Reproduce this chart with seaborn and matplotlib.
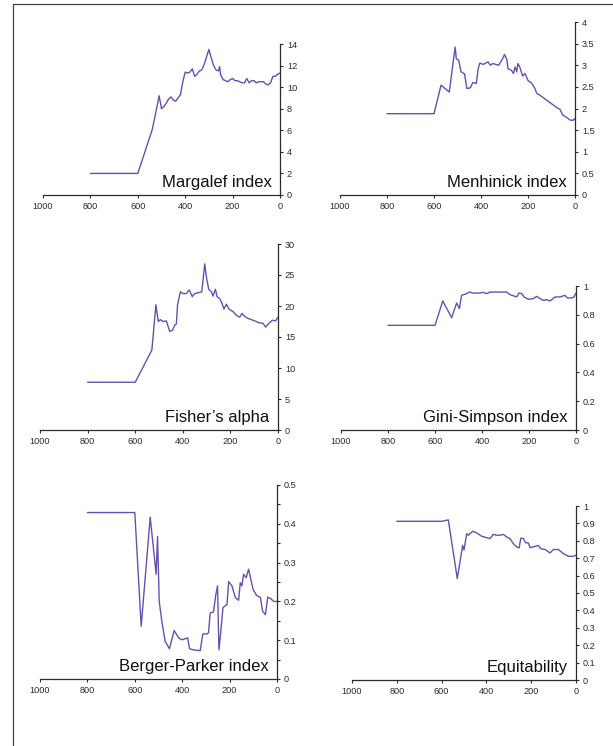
import matplotlib
matplotlib.use("Agg")
import matplotlib.pyplot as plt
from matplotlib.lines import Line2D
from matplotlib.ticker import MultipleLocator, FuncFormatter
import seaborn as sns

sns.set_style("ticks")
plt.rcParams["font.family"] = ["Liberation Sans", "DejaVu Sans"]

# ---- diversity index series (age vs value) ----
margalef_age = [800, 600, 570, 540, 530, 510, 500, 490, 480, 470, 460, 450, 440, 430, 420,
                410, 400, 390, 380, 370, 360, 350, 340, 330, 320, 310, 300, 290, 280, 270,
                260, 255, 250, 240, 230, 220, 210, 200, 190, 180, 170, 160, 150, 140, 130,
                120, 110, 100, 90, 80, 70, 60, 50, 40, 30, 20, 10, 0]
margalef_val = [2.0, 2.0, 4.0, 6.0, 7.0, 9.2, 8.0, 8.2, 8.5, 8.9, 9.1, 8.8, 8.7, 9.0, 9.3,
                10.5, 11.4, 11.3, 11.4, 11.7, 11.0, 11.2, 11.5, 11.6, 12.1, 12.8, 13.5, 12.7, 12.0, 11.6,
                11.5, 11.9, 11.1, 10.7, 10.6, 10.5, 10.7, 10.8, 10.6, 10.6, 10.5, 10.4, 10.4, 10.8, 10.4,
                10.6, 10.6, 10.4, 10.5, 10.5, 10.5, 10.3, 10.2, 10.4, 11.0, 11.0, 11.2, 11.3]

menhinick_age = [800, 600, 570, 535, 510, 505, 495, 485, 470, 460, 445, 435, 420, 412, 405,
                 390, 370, 360, 350, 325, 310, 300, 290, 285, 270, 262, 255, 248, 243, 235,
                 223, 213, 200, 185, 170, 163, 150, 135, 120, 105, 92, 78, 64, 52, 35,
                 20, 7, 0]
menhinick_val = [1.88, 1.88, 2.54, 2.38, 3.42, 3.15, 3.12, 2.85, 2.80, 2.46, 2.48, 2.60, 2.58, 2.92, 3.05,
                 3.02, 3.08, 3.00, 3.04, 3.00, 3.13, 3.25, 3.13, 2.92, 2.88, 2.81, 2.96, 2.85, 3.04, 2.96,
                 2.75, 2.81, 2.65, 2.59, 2.46, 2.35, 2.31, 2.25, 2.19, 2.13, 2.08, 2.02, 1.98, 1.85, 1.79,
                 1.73, 1.73, 1.77]

fisher_age = [800, 600, 573, 530, 513, 503, 494, 483, 469, 455, 443, 434, 427, 422, 410,
              399, 385, 373, 360, 350, 329, 320, 308, 301, 291, 280, 273, 263, 256, 245,
              238, 227, 217, 206, 189, 175, 161, 151, 140, 126, 112, 98, 80, 63, 52,
              38, 24, 10, 0]
fisher_val = [7.7, 7.7, 9.7, 12.9, 20.2, 17.5, 17.8, 17.5, 17.6, 15.9, 16.1, 16.9, 17.1, 20.2, 22.3,
              22.0, 22.0, 22.6, 21.5, 22.0, 22.2, 22.3, 26.8, 24.7, 22.7, 22.3, 21.6, 22.7, 21.5, 21.2,
              20.7, 19.5, 20.3, 19.5, 19.1, 18.5, 18.2, 18.8, 18.3, 18.0, 17.8, 17.6, 17.3, 17.2, 16.6,
              17.2, 17.7, 17.6, 18.2]

gini_age = [800, 600, 567, 529, 508, 496, 487, 465, 454, 437, 409, 394, 380, 366, 295,
            281, 252, 243, 231, 221, 203, 182, 167, 153, 139, 125, 111, 89, 68, 47,
            37, 18, 9, 0]
gini_val = [0.727, 0.727, 0.896, 0.780, 0.882, 0.843, 0.935, 0.947, 0.958, 0.951, 0.951, 0.956, 0.947, 0.958, 0.958,
            0.940, 0.924, 0.951, 0.947, 0.924, 0.908, 0.912, 0.928, 0.912, 0.900, 0.905, 0.896, 0.924, 0.924, 0.935,
            0.917, 0.917, 0.924, 0.951]

berger_age = [800, 600, 573, 535, 510, 504, 497, 486, 472, 454, 434, 415, 401, 377, 369,
              352, 324, 313, 296, 289, 282, 268, 258, 251, 245, 237, 228, 211, 204, 190,
              176, 162, 155, 148, 141, 130, 120, 101, 87, 70, 61, 49, 39, 28, 14,
              0]
berger_val = [0.429, 0.429, 0.136, 0.417, 0.270, 0.367, 0.200, 0.149, 0.097, 0.078, 0.125, 0.106, 0.101, 0.106, 0.078,
              0.075, 0.073, 0.116, 0.116, 0.119, 0.170, 0.173, 0.218, 0.240, 0.075, 0.123, 0.184, 0.192, 0.251, 0.240,
              0.210, 0.203, 0.248, 0.240, 0.270, 0.261, 0.283, 0.231, 0.216, 0.210, 0.175, 0.166, 0.211, 0.208, 0.200,
              0.200]

equit_age = [800, 600, 570, 530, 506, 500, 488, 481, 461, 443, 421, 399, 384, 369, 354,
             339, 324, 310, 295, 280, 265, 254, 246, 235, 225, 213, 205, 190, 168, 158,
             138, 116, 101, 79, 57, 34, 12, 0]
equit_val = [0.912, 0.912, 0.920, 0.583, 0.774, 0.746, 0.841, 0.832, 0.855, 0.845, 0.826, 0.818, 0.813, 0.837, 0.832,
             0.832, 0.837, 0.822, 0.813, 0.784, 0.765, 0.759, 0.816, 0.813, 0.788, 0.788, 0.761, 0.765, 0.774, 0.755,
             0.750, 0.730, 0.750, 0.750, 0.727, 0.711, 0.711, 0.717]

titles = ["Margalef index", "Menhinick index", "Fisher\u2019s alpha",
          "Gini-Simpson index", "Berger-Parker index", "Equitability"]
x_ticks = [1000, 800, 600, 400, 200, 0]

LINE_COLOR = "#6650b0"
AXIS_COLOR = "#2b2b2b"

W, H = 613, 746
fig = plt.figure(figsize=(W / 100, H / 100), dpi=100)

# panel boxes in pixels: left, right, top, bottom
panels = [
    (margalef_age, margalef_val, (43, 280, 44, 195), 14, 2, None),
    (menhinick_age, menhinick_val, (340, 575, 22, 195), 4, 0.5, None),
    (fisher_age, fisher_val, (40, 278, 244, 430), 30, 5, None),
    (gini_age, gini_val, (341, 576, 286, 430), 1, 0.2, None),
    (berger_age, berger_val, (40, 277, 485, 679), 0.5, 0.1, 0.05),
    (equit_age, equit_val, (352, 576, 506, 680), 1, 0.1, None),
]

fmt = FuncFormatter(lambda v, p: f"{v:g}")

for (ages, vals, box, ymax, ystep, yminor), title in zip(panels, titles):
    l, r, t, b = box
    ax = fig.add_axes([l / W, 1 - b / H, (r - l) / W, (b - t) / H])
    sns.lineplot(x=ages, y=vals, ax=ax, color=LINE_COLOR, lw=1.0, estimator=None)
    ax.set_xlim(1000, 0)
    ax.set_ylim(0, ymax)
    ax.set_xticks(x_ticks)
    ax.yaxis.set_major_locator(MultipleLocator(ystep))
    if yminor:
        ax.yaxis.set_minor_locator(MultipleLocator(yminor))
    ax.yaxis.set_major_formatter(fmt)
    ax.yaxis.tick_right()
    for side in ("top", "left"):
        ax.spines[side].set_visible(False)
    for side in ("bottom", "right"):
        ax.spines[side].set_color(AXIS_COLOR)
        ax.spines[side].set_linewidth(0.9)
    ax.tick_params(axis="both", which="both", direction="out", length=2.5, width=0.8,
                   colors=AXIS_COLOR, labelsize=6.6, pad=2.5)
    ax.tick_params(axis="y", which="minor", length=2.5)
    ax.set_xlabel("")
    ax.set_ylabel("")
    ax.annotate(title, xy=(1, 0), xycoords="axes fraction", xytext=(-6, 5.5),
                textcoords="offset points", ha="right", va="baseline",
                fontsize=12, color="#111111")

# outer frame lines on the top and left edges
fig.add_artist(Line2D([13 / W, 1], [1 - 4 / H, 1 - 4 / H], transform=fig.transFigure,
                      color="#444444", lw=0.9))
fig.add_artist(Line2D([13 / W, 13 / W], [1 - 4 / H, 0], transform=fig.transFigure,
                      color="#444444", lw=0.9))

fig.savefig("out.png", dpi=100)
